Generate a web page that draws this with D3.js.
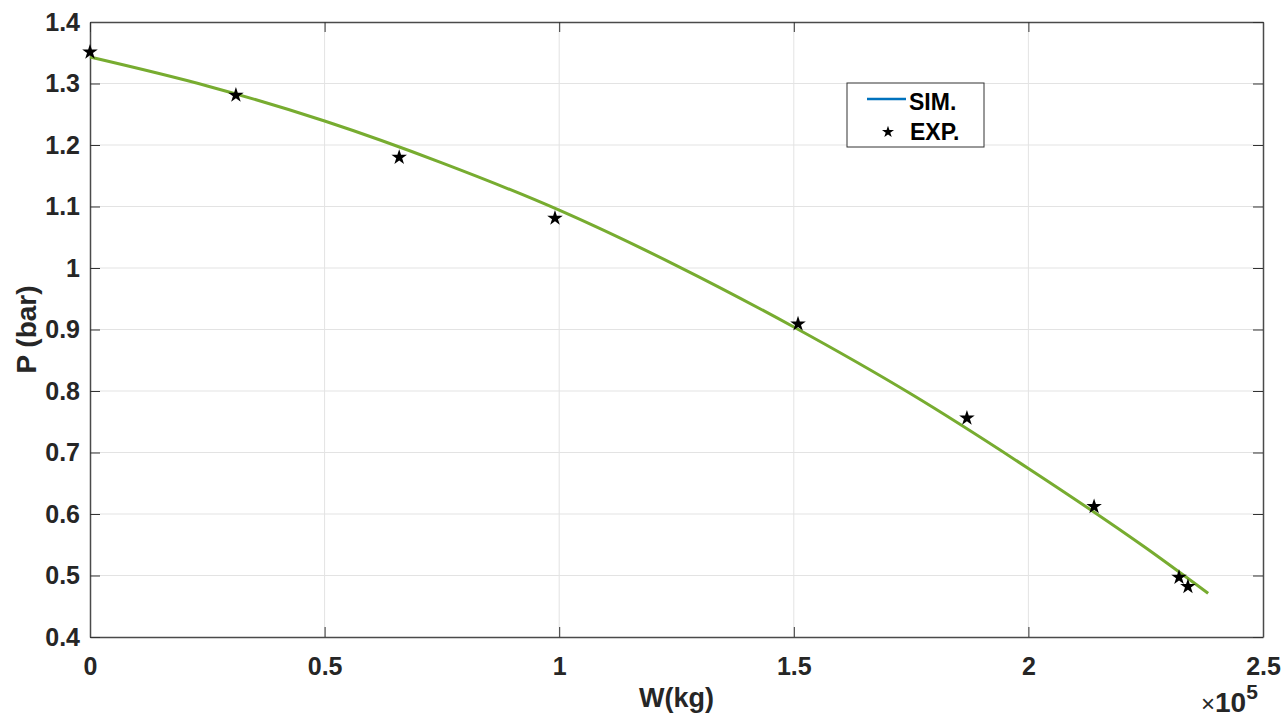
<!DOCTYPE html>
<html>
<head>
<meta charset="utf-8">
<script src="https://cdn.jsdelivr.net/npm/d3@7"></script>
<style>
  body { margin: 0; background: #fff; }
  svg { display: block; font-family: "Liberation Sans", Arial, sans-serif; }
</style>
</head>
<body>
<div id="chart"></div>
<script>
// simulated curve (W in 1e5 kg, P in bar)
const simW = [0, 0.25, 0.5, 0.75, 1.0, 1.25, 1.5, 1.75, 2.0, 2.25, 2.383];
const simP = [1.343, 1.296, 1.239, 1.171, 1.094, 1.004, 0.904, 0.795, 0.674, 0.545, 0.471];

// experimental points
const expW = [0, 0.311, 0.659, 0.991, 1.509, 1.869, 2.140, 2.321, 2.340];
const expP = [1.351, 1.281, 1.180, 1.081, 0.909, 0.756, 0.612, 0.497, 0.482];

const xTicks = [0, 0.5, 1, 1.5, 2, 2.5];
const yTicks = [0.4, 0.5, 0.6, 0.7, 0.8, 0.9, 1, 1.1, 1.2, 1.3, 1.4];

const width = 1285, height = 717;
const margin = {top: 22, right: 22, bottom: 80, left: 90};
const innerW = width - margin.left - margin.right;
const innerH = height - margin.top - margin.bottom;

const svg = d3.select("#chart")
  .append("svg")
  .attr("width", width)
  .attr("height", height);

const g = svg.append("g")
  .attr("transform", "translate(" + margin.left + "," + margin.top + ")");

const x = d3.scaleLinear().domain([0, 2.5]).range([0, innerW]);
const y = d3.scaleLinear().domain([0.4, 1.4]).range([innerH, 0]);

// grid
g.append("g").selectAll("line")
  .data(xTicks.slice(1, -1))
  .enter().append("line")
  .attr("x1", d => x(d)).attr("x2", d => x(d))
  .attr("y1", 0).attr("y2", innerH)
  .attr("stroke", "#e3e3e3").attr("stroke-width", 1);

g.append("g").selectAll("line")
  .data(yTicks.slice(1, -1))
  .enter().append("line")
  .attr("y1", d => y(d)).attr("y2", d => y(d))
  .attr("x1", 0).attr("x2", innerW)
  .attr("stroke", "#e3e3e3").attr("stroke-width", 1);

// axes (inward ticks like matlab)
const xAxis = g.append("g")
  .attr("transform", "translate(0," + innerH + ")")
  .call(d3.axisBottom(x).tickValues(xTicks).tickFormat(d3.format("")).tickSizeInner(-10).tickSizeOuter(0).tickPadding(20));
const yAxis = g.append("g")
  .call(d3.axisLeft(y).tickValues(yTicks).tickFormat(d3.format("")).tickSizeInner(-10).tickSizeOuter(0).tickPadding(10));
g.append("g")
  .call(d3.axisTop(x).tickValues(xTicks).tickFormat("").tickSizeInner(-10).tickSizeOuter(0));
g.append("g")
  .attr("transform", "translate(" + innerW + ",0)")
  .call(d3.axisRight(y).tickValues(yTicks).tickFormat("").tickSizeInner(-10).tickSizeOuter(0));

g.selectAll(".domain").attr("stroke", "#4a4a4a").attr("stroke-width", 1.5);
g.selectAll(".tick line").attr("stroke", "#333");
g.selectAll(".tick text")
  .attr("fill", "#262626")
  .style("font-size", "25px")
  .style("font-weight", "bold");
xAxis.selectAll(".tick text").attr("dy", "0.71em");

// simulated line
const simData = simW.map((w, i) => ({w: w, p: simP[i]}));
g.append("path")
  .datum(simData)
  .attr("fill", "none")
  .attr("stroke", "#77ac30")
  .attr("stroke-width", 3)
  .attr("d", d3.line().x(d => x(d.w)).y(d => y(d.p)).curve(d3.curveMonotoneX));

// experimental stars
const expData = expW.map((w, i) => ({w: w, p: expP[i]}));
g.selectAll(".star")
  .data(expData)
  .enter().append("path")
  .attr("class", "star")
  .attr("transform", d => "translate(" + x(d.w) + "," + y(d.p) + ")")
  .attr("d", d3.symbol().type(d3.symbolStar).size(75))
  .attr("fill", "#000");

// axis labels
svg.append("text")
  .attr("x", margin.left + innerW / 2)
  .attr("y", 707)
  .attr("text-anchor", "middle")
  .style("font-size", "27px")
  .style("font-weight", "bold")
  .attr("fill", "#262626")
  .text("W(kg)");

svg.append("text")
  .attr("transform", "translate(36," + (margin.top + innerH / 2) + ")rotate(-90)")
  .attr("text-anchor", "middle")
  .style("font-size", "28px")
  .style("font-weight", "bold")
  .attr("fill", "#262626")
  .text("P (bar)");

// exponent
const expo = svg.append("text")
  .attr("x", 1201)
  .attr("y", 712)
  .attr("fill", "#262626");
expo.append("tspan").style("font-size", "24px").text("×");
expo.append("tspan").style("font-size", "28px").style("font-weight", "bold").text("10");
expo.append("tspan").attr("dy", -13).style("font-size", "21px").style("font-weight", "bold").text("5");

// legend
const leg = svg.append("g");
leg.append("rect")
  .attr("x", 847).attr("y", 83).attr("width", 137).attr("height", 64)
  .attr("fill", "#fff").attr("stroke", "#333").attr("stroke-width", 1);
leg.append("line")
  .attr("x1", 867).attr("x2", 906).attr("y1", 99).attr("y2", 99)
  .attr("stroke", "#0072bd").attr("stroke-width", 2.5);
leg.append("text")
  .attr("x", 909).attr("y", 110)
  .style("font-size", "23px").style("font-weight", "bold")
  .text("SIM.");
leg.append("path")
  .attr("transform", "translate(888,132)")
  .attr("d", d3.symbol().type(d3.symbolStar).size(45))
  .attr("fill", "#000");
leg.append("text")
  .attr("x", 910).attr("y", 140)
  .style("font-size", "23px").style("font-weight", "bold")
  .text("EXP.");
</script>
</body>
</html>
